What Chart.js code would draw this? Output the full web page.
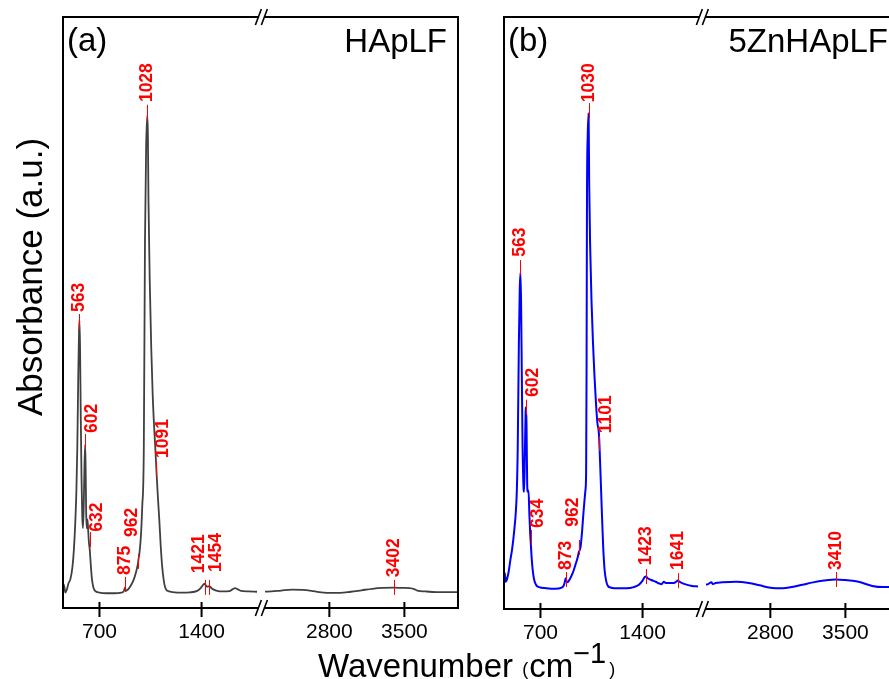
<!DOCTYPE html>
<html><head><meta charset="utf-8">
<script src="https://cdn.jsdelivr.net/npm/chart.js@4.4.1/dist/chart.umd.min.js"></script>
<style>
html,body{margin:0;padding:0;background:#fff;overflow:hidden;}
#wrap{position:absolute;left:0;top:0;width:889px;height:679px;overflow:hidden;background:#fff;}
#boxA{position:absolute;left:0;top:0;width:889px;height:679px;}
#boxB{position:absolute;left:0;top:0;width:911px;height:679px;}
</style></head><body>
<div id="wrap"><div id="boxA"><canvas id="cA"></canvas></div><div id="boxB"><canvas id="cB"></canvas></div></div>
<script>
// ---------- data ----------
const tickLabels = [700, 1400, 2800, 3500];

// Panel (a) HApLF
const aLeftWn  = [450,455,460,466,475,488,500,515,525,535,542,548,555,560,563,567,572,577,582,587,592,597,602,605,609,613,618,623,628,633,640,648,658,670,700,750,800,850,868,875,882,895,915,935,950,962,968,975,985,993,1004,1012,1020,1028,1032,1036,1045,1055,1065,1075,1084,1091,1100,1110,1120,1130,1140,1150,1165,1200,1260,1320,1370,1395,1410,1421,1430,1440,1454,1470,1500,1550,1590,1615,1630,1645,1670,1720,1780];
const aLeftAbs = [3.0,4.0,3.5,2.6,3.0,4.2,4.8,7,10,15,20,27,40,47,48.7,44,32,22,15.5,13.5,17,24,27.6,24,16,13.5,15,13,11,10,7.5,5,3.5,2.9,2.6,2.5,2.5,2.6,2.9,3.5,2.9,3.1,3.8,4.8,6,7.3,8.3,9.5,12.5,17,27,62,78,83.4,80,69,55,44,36,30.5,26.5,23,19,15,10.5,7,4.8,3.5,2.9,2.7,2.6,2.65,2.9,3.4,3.9,4.1,3.8,3.6,3.7,3.3,2.95,2.8,2.85,3.2,3.35,3.2,2.9,2.8,2.75];
const aRightWn  = [2200,2260,2350,2450,2550,2650,2750,2900,3000,3100,3200,3300,3402,3480,3550,3590,3620,3700,3800,3900,4000];
const aRightAbs = [2.76,2.8,2.95,3.1,3.05,2.85,2.6,2.55,2.75,3.0,3.25,3.4,3.45,3.4,3.35,3.2,2.95,2.8,2.7,2.7,2.7];
const aPeakWn     = [563,602,632,875,962,1028,1091,1421,1454,3402];
const aPeakLevel  = [48.4,28.1,11.5,3.9,7.8,83.8,23.4,3.4,3.4,3.4];   // marker centre
const aLabelLevel = [50.1,29.6,12.9,5.6,12.0,85.6,25.4,5.9,6.1,5.2];  // label foot
const aLabelSide  = ['c','r','r','c','l','c','r','l','r','c'];

// Panel (b) 5ZnHApLF
const bLeftWn  = [450,455,462,470,482,495,505,515,523,530,538,544,552,558,563,567,572,577,583,588,593,598,602,605,609,613,618,624,630,634,640,648,658,672,690,740,800,845,860,867,873,878,885,900,920,940,955,962,975,985,994,1008,1013,1016,1019,1024,1030,1034,1040,1050,1060,1070,1080,1090,1101,1110,1120,1130,1140,1150,1162,1185,1230,1290,1340,1375,1400,1415,1423,1435,1460,1490,1515,1530,1545,1560,1590,1615,1630,1641,1655,1690,1740,1780];
const bLeftAbs = [5.3,6.1,4.6,5.0,6.3,8.5,10,12,14,16,20,27,45,54,56.8,52,40,28,21,19.8,26,33,34.1,30,21,19.8,20,16,12.5,11,8.5,6.3,4.8,4.0,3.7,3.5,3.4,3.6,4.0,4.6,5.2,4.7,4.5,5.0,6.0,7.5,8.7,9.5,10.5,13,16,20,23,40,70,80,83.7,72,62,52,45,39.5,35,31.5,29.5,24,17,10.5,6.5,4.8,3.9,3.6,3.5,3.5,3.7,4.1,4.8,5.4,5.5,5.2,4.9,4.6,4.3,4.2,4.6,4.4,4.4,4.4,4.6,4.8,4.6,4.2,3.9,3.8];
const bRightWn  = [2200,2220,2250,2265,2290,2350,2480,2600,2700,2800,2915,3000,3100,3200,3300,3410,3500,3600,3662,3750,3850,3906,4000];
const bRightAbs = [4.1,4.2,4.5,4.2,4.4,4.5,4.6,4.4,4.0,3.6,3.5,3.7,4.1,4.5,4.8,5.0,4.9,4.7,4.4,3.9,3.7,3.7,3.6];
const bPeakWn     = [563,602,634,873,962,1030,1101,1423,1641,3410];
const bPeakLevel  = [57.6,34.0,12.0,4.9,10.3,84.1,27.9,5.4,4.7,4.9];
const bLabelLevel = [59.5,35.8,13.7,6.6,13.9,85.6,29.7,7.4,6.6,6.6];
const bLabelSide  = ['c','r','r','c','l','c','r','c','c','c'];

// ---------- broken axis mapping ----------
const X_MIN = 450, X_MAX = 4000, BREAK_LO = 1800, BREAK_HI = 2200, RIGHT_START = 1835, RIGHT_K = 0.735, BREAK_MARK = 1810;
function pos(w){ return w <= BREAK_LO ? w : RIGHT_START + (w - BREAK_HI) * RIGHT_K; }

const FONT = '"Liberation Sans", Arial, sans-serif';
Chart.defaults.font.family = FONT;

function framePlugin(p){
  return { id: 'frame' + p.name, afterDraw(chart){
    const {ctx, chartArea:{left,right,top,bottom}, scales:{x}} = chart;
    const bx = x.getPixelForValue(BREAK_MARK);
    ctx.save();
    ctx.strokeStyle = '#000'; ctx.lineWidth = 2;
    ctx.beginPath();
    ctx.moveTo(left, top-1); ctx.lineTo(left, bottom+1);
    ctx.moveTo(right, top-1); ctx.lineTo(right, bottom+1);
    [top, bottom].forEach(yy => {
      ctx.moveTo(left, yy); ctx.lineTo(bx-3, yy);
      ctx.moveTo(bx+3, yy); ctx.lineTo(right, yy);
    });
    tickLabels.forEach(t => { const px = x.getPixelForValue(pos(t)); ctx.moveTo(px, bottom-6); ctx.lineTo(px, bottom+9); });
    ctx.stroke();
    ctx.lineWidth = 1.6;
    ctx.beginPath();
    [top, bottom].forEach(yy => {
      ctx.moveTo(bx-6, yy+8); ctx.lineTo(bx, yy-8);
      ctx.moveTo(bx, yy+8); ctx.lineTo(bx+6, yy-8);
    });
    ctx.stroke();
    ctx.fillStyle = '#000';
    ctx.font = '33px ' + FONT;
    ctx.textBaseline = 'alphabetic';
    ctx.textAlign = 'left';
    ctx.fillText(p.panel, left + 4, top + 34);
    ctx.textAlign = 'right';
    ctx.fillText(p.title, right - 11, top + 35);
    if (p.axisTitles) {
      ctx.save();
      ctx.font = '35px ' + FONT;
      ctx.translate(42, 277); ctx.rotate(-Math.PI/2);
      ctx.textAlign = 'center';
      ctx.fillText('Absorbance (a.u.)', 0, 0);
      ctx.restore();
      ctx.textAlign = 'left';
      let cx = 318;
      ctx.font = '33px ' + FONT; ctx.fillText('Wavenumber ', cx, 677); cx += ctx.measureText('Wavenumber ').width;
      ctx.font = '18px ' + FONT; ctx.fillText('(', cx, 675); cx += ctx.measureText('(').width + 1;
      ctx.font = '33px ' + FONT; ctx.fillText('cm', cx, 677); cx += ctx.measureText('cm').width;
      ctx.font = '29px ' + FONT; ctx.fillText('\u22121', cx, 663); cx += ctx.measureText('\u22121').width + 3;
      ctx.font = '18px ' + FONT; ctx.fillText(')', cx, 675);
    }
    ctx.restore();
  }};
}

function peakPlugin(p){
  const sideOff = {l:-6.5, c:0, r:6.5};
  return { id: 'peaks' + p.name, afterDatasetsDraw(chart){
    const {ctx, scales:{x,y}} = chart;
    ctx.save();
    ctx.strokeStyle = '#ff0000'; ctx.fillStyle = '#ff0000'; ctx.lineWidth = 1;
    ctx.font = 'bold 17.5px ' + FONT;
    p.peakWn.forEach((w,i) => {
      const px = Math.round(x.getPixelForValue(pos(w))) + 0.5;
      const py = y.getPixelForValue(p.peakLevel[i]);
      ctx.beginPath(); ctx.moveTo(px, py-8); ctx.lineTo(px, py+7); ctx.stroke();
      const ly = y.getPixelForValue(p.labelLevel[i]);
      ctx.save(); ctx.translate(px + sideOff[p.labelSide[i]], ly); ctx.rotate(-Math.PI/2);
      ctx.textAlign = 'left'; ctx.textBaseline = 'middle';
      ctx.fillText(String(w), 0, 0);
      ctx.restore();
    });
    ctx.restore();
  }};
}

function makePanel(id, p){
  const mk = (wn, ab) => ({
    data: wn.map((w,i) => ({x: pos(w), y: ab[i]})),
    borderColor: p.color, borderWidth: p.lw, pointRadius: 0, fill: false,
    cubicInterpolationMode: 'monotone'
  });
  return new Chart(document.getElementById(id), {
    type: 'line',
    data: { datasets: [mk(p.leftWn, p.leftAbs), mk(p.rightWn, p.rightAbs)] },
    options: {
      responsive: true, maintainAspectRatio: false, animation: false, devicePixelRatio: 1,
      layout: { padding: p.pad },
      plugins: { legend: {display:false}, tooltip: {enabled:false} },
      scales: {
        x: { type:'linear', min: pos(X_MIN), max: pos(X_MAX),
             grid: {display:false, drawTicks:false}, border: {display:false},
             afterBuildTicks: s => { s.ticks = tickLabels.map(t => ({value: pos(t)})); },
             afterFit: s => { s.height = p.axisH; },
             ticks: { autoSkip:false, maxRotation:0, minRotation:0, padding:12, color:'#000', font:{size:21},
                      callback: (v,i) => String(tickLabels[i]) } },
        y: { display:false, min:0, max:100 }
      }
    },
    plugins: [framePlugin(p), peakPlugin(p)]
  });
}

makePanel('cA', { name:'A', panel:'(a)', title:'HApLF', color:'#404040', lw:1.8,
  leftWn:aLeftWn, leftAbs:aLeftAbs, rightWn:aRightWn, rightAbs:aRightAbs,
  peakWn:aPeakWn, peakLevel:aPeakLevel, labelLevel:aLabelLevel, labelSide:aLabelSide,
  pad:{left:63, right:431, top:17, bottom:0}, axisH:71, axisTitles:true });
makePanel('cB', { name:'B', panel:'(b)', title:'5ZnHApLF', color:'#0000ff', lw:2,
  leftWn:bLeftWn, leftAbs:bLeftAbs, rightWn:bRightWn, rightAbs:bRightAbs,
  peakWn:bPeakWn, peakLevel:bPeakLevel, labelLevel:bLabelLevel, labelSide:bLabelSide,
  pad:{left:504, right:12, top:17, bottom:0}, axisH:70, axisTitles:false });
</script>
</body></html>
